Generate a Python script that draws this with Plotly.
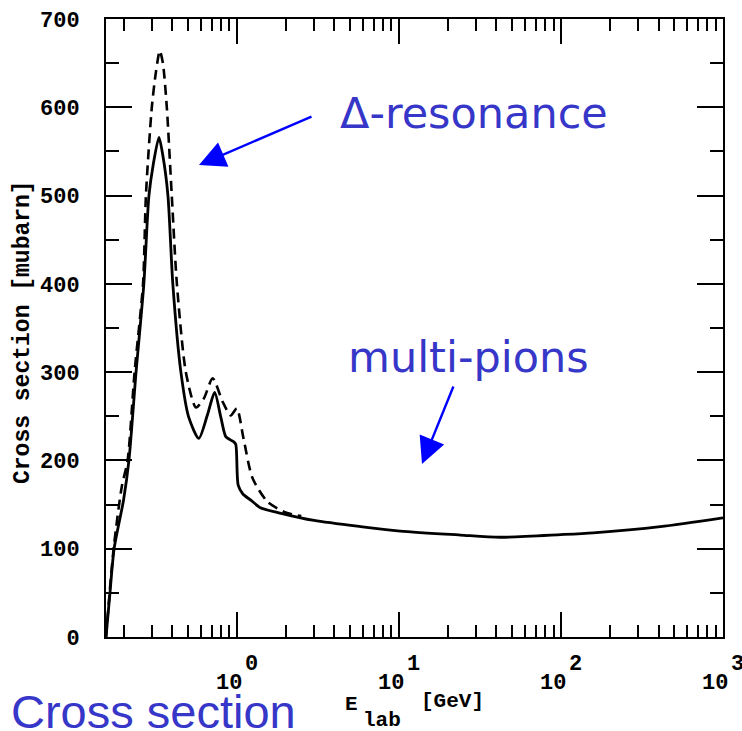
import math
import plotly.graph_objects as go

# Total cross section vs. lab energy (GeV, mubarn)
e_solid = [0.156, 0.165, 0.175, 0.200, 0.216, 0.239, 0.267, 0.287, 0.305, 0.331,
           0.350, 0.376, 0.403, 0.452, 0.505, 0.583, 0.66, 0.73, 0.797, 0.855,
           0.918, 0.958, 0.986, 1.02, 1.09, 1.22, 1.41, 1.79, 3.0, 5.8,
           10.2, 24.0, 42.0, 100.0, 158.0, 410.0, 1000.0]
s_solid = [0, 50, 100, 155, 200, 300, 400, 500, 535, 566,
           545, 500, 400, 300, 249, 225, 252, 277, 249, 227,
           223, 221, 218, 172, 162, 155, 146, 141, 132, 125,
           120, 115.5, 113, 116, 118, 125, 135]

e_dash = [0.156, 0.165, 0.175, 0.195, 0.212, 0.234, 0.264, 0.275, 0.299, 0.317,
          0.335, 0.350, 0.370, 0.397, 0.427, 0.485, 0.56, 0.626, 0.71, 0.82,
          0.918, 1.0, 1.10, 1.25, 1.55, 2.0, 2.5]
s_dash = [0, 55, 105, 170, 200, 300, 400, 500, 600, 640,
          664, 650, 600, 500, 400, 300, 260, 270, 293, 266,
          251, 259, 225, 180, 153, 141, 137]

# decade ticks on the energy axis: value, exponent label
x_major = [1, 10, 100, 1000]
x_exponents = ["0", "1", "2", "3"]
x_minor = [m * 10 ** d for d in (-1, 0, 1, 2) for m in range(2, 10)]

mono = "Liberation Mono"
blue_text = "#3636C8"
x_range = [-0.807, 3]

fig = go.Figure()
fig.add_trace(go.Scatter(x=e_solid, y=s_solid, mode="lines",
                         line=dict(color="black", width=2.8, shape="spline", smoothing=0.7),
                         hoverinfo="skip"))
fig.add_trace(go.Scatter(x=e_dash, y=s_dash, mode="lines",
                         line=dict(color="black", width=2.6, dash="10px,6px",
                                   shape="spline", smoothing=0.7),
                         hoverinfo="skip"))

L, R, T, B = 106, 723, 19, 637


def px(xp):
    return (xp - L) / (R - L)


def py(yp):
    return (B - yp) / (B - T)


tick_font = dict(family=mono, size=22, color="black", weight="bold")

annotations = []
# "10" with a raised exponent under each decade tick (log axis -> log10 position)
for v, ex in zip(x_major, x_exponents):
    annotations.append(dict(text="10", x=math.log10(v), xref="x", y=py(683), yref="paper",
                            xanchor="right", yanchor="middle", xshift=7,
                            showarrow=False, font=tick_font))
    annotations.append(dict(text=ex, x=math.log10(v), xref="x", y=py(665), yref="paper",
                            xanchor="left", yanchor="middle", xshift=6,
                            showarrow=False, font=tick_font))

annotations += [
    # y-axis title
    dict(text="Cross section [mubarn]", x=px(23), y=py(332), xref="paper", yref="paper",
         textangle=-90, showarrow=False, xanchor="center", yanchor="middle",
         font=dict(family=mono, size=23, color="black", weight="bold")),
    # x-axis title pieces
    dict(text="E", x=px(351), y=py(704), xref="paper", yref="paper", showarrow=False,
         xanchor="center", yanchor="middle",
         font=dict(family=mono, size=21, color="black", weight="bold")),
    dict(text="lab", x=px(382), y=py(720), xref="paper", yref="paper", showarrow=False,
         xanchor="center", yanchor="middle",
         font=dict(family=mono, size=21, color="black", weight="bold")),
    dict(text="[GeV]", x=px(452), y=py(701), xref="paper", yref="paper", showarrow=False,
         xanchor="center", yanchor="middle",
         font=dict(family=mono, size=21, color="black", weight="bold")),
    # labels
    dict(text="Δ-resonance", x=px(474), y=py(113), xref="paper", yref="paper",
         showarrow=False, xanchor="center", yanchor="middle",
         font=dict(family="DejaVu Sans", size=43, color=blue_text)),
    dict(text="multi-pions", x=px(468), y=py(357), xref="paper", yref="paper",
         showarrow=False, xanchor="center", yanchor="middle",
         font=dict(family="DejaVu Sans", size=43, color=blue_text)),
    dict(text="Cross section", x=px(9), y=py(711), xref="paper", yref="paper",
         showarrow=False, xanchor="left", yanchor="middle",
         font=dict(family="Liberation Sans", size=47, color=blue_text)),
    # arrows
    dict(text="", x=px(199), y=py(165), xref="paper", yref="paper",
         ax=114, ay=-49, showarrow=True, arrowhead=2, arrowsize=2.2,
         arrowwidth=2.4, arrowcolor="#0000FF", standoff=0),
    dict(text="", x=px(422), y=py(464), xref="paper", yref="paper",
         ax=32, ay=-79, showarrow=True, arrowhead=2, arrowsize=2.2,
         arrowwidth=2.4, arrowcolor="#0000FF", standoff=0),
]

fig.update_layout(
    width=742, height=731,
    margin=dict(l=L, r=742 - R, t=T, b=731 - B, autoexpand=False),
    paper_bgcolor="white", plot_bgcolor="white",
    showlegend=False,
    annotations=annotations,
    xaxis=dict(
        type="log", range=x_range, automargin=False,
        tickmode="array", tickvals=x_major, ticktext=["", "", "", ""],
        ticks="inside", ticklen=25, tickwidth=2, tickcolor="black",
        minor=dict(tickmode="array", tickvals=x_minor, ticks="inside",
                   ticklen=12, tickwidth=2, tickcolor="black"),
        showline=True, linewidth=2, linecolor="black", mirror="ticks",
        showgrid=False, zeroline=False,
    ),
    yaxis=dict(
        range=[0, 700], tickmode="linear", tick0=0, dtick=100, automargin=False,
        ticks="inside", ticklen=26, tickwidth=2, tickcolor="black",
        minor=dict(dtick=50, ticks="inside", ticklen=13, tickwidth=2, tickcolor="black"),
        showline=True, linewidth=2, linecolor="black", mirror="ticks",
        showgrid=False, zeroline=False,
        ticklabelstandoff=20,
        tickfont=tick_font,
    ),
)

fig.write_html("out.html")
